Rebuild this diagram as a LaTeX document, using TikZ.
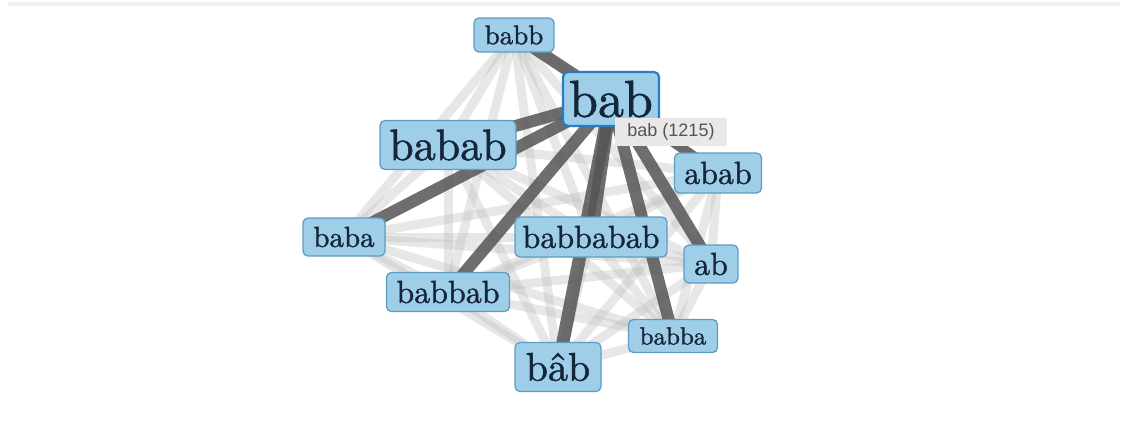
\documentclass[tikz,border=0pt]{standalone}
\usepackage{fontspec}
\newfontfamily\tipfont{Liberation Sans}
\newfontfamily\wordfont{lmroman10-regular.otf}[FakeBold=1.2]
\usetikzlibrary{backgrounds}
\definecolor{nodefill}{HTML}{9FCFE8}
\definecolor{nodeline}{HTML}{5E9CC4}
\definecolor{selline}{HTML}{2A7CC0}
\definecolor{nodetext}{HTML}{16263A}
\definecolor{strong}{HTML}{555555}
\definecolor{weak}{HTML}{BDBDBD}
\definecolor{tipfill}{HTML}{E9E7E8}
\definecolor{tiptext}{HTML}{555555}
\definecolor{band}{HTML}{F0F0F0}
\tikzset{
  word/.style={draw=nodeline, fill=nodefill, line width=1.3pt, rounded corners=5pt,
    text=nodetext, inner sep=0pt, align=center},
  fs/.style={font=\wordfont\fontsize{#1}{#1}\selectfont},
  heavy/.style={draw=strong, opacity=0.85, line width=#1},
  faint/.style={draw=weak, opacity=0.35, line width=9pt},
  tip/.style={fill=tipfill, text=tiptext, inner sep=0pt, font=\tipfont\fontsize{18}{18}\selectfont},
}
\begin{document}
\begin{tikzpicture}[x=1pt,y=-1pt]
\useasboundingbox (0,0) rectangle (1128,423);
% nodes
\node[word, fs=27, minimum width=80pt, minimum height=34pt] (babb) at (514,35) {babb};
\node[word, fs=44, minimum width=136pt, minimum height=49pt] (babab) at (448,145) {babab};
\node[word, fs=32, minimum width=87pt, minimum height=40pt] (abab) at (718,173) {abab};
\node[word, fs=29, minimum width=82pt, minimum height=38pt] (baba) at (344,237) {baba};
\node[word, fs=32, minimum width=152pt, minimum height=40pt] (babbabab) at (591,237) {babbabab};
\node[word, fs=32, minimum width=54pt, minimum height=38pt] (ab) at (711,264) {ab};
\node[word, fs=32, minimum width=123pt, minimum height=39pt] (babbab) at (448,292) {babbab};
\node[word, fs=25, minimum width=89pt, minimum height=33pt] (babba) at (673,336) {babba};
\node[word, fs=40, minimum width=86pt, minimum height=49pt] (bhatb) at (558,367) {b\^ab};
\node[word, draw=selline, line width=2.2pt, fs=52, minimum width=96pt, minimum height=54pt] (bab) at (611,99) {bab};
\node[tip, minimum width=112pt, minimum height=28pt] (tip) at (671,132) {bab (1215)};
% edges
\begin{pgfonlayer}{background}
\fill[white] (0,0) rectangle (1128,423);
\draw[band, line width=4pt] (8,4) -- (1120,4);
\foreach \a/\b in {babb/babab,babb/abab,babb/baba,babb/babbabab,babb/ab,babb/babbab,babb/babba,babb/bhatb,
  babab/abab,babab/baba,babab/babbabab,babab/ab,babab/babbab,babab/babba,babab/bhatb,
  abab/baba,abab/babbabab,abab/ab,abab/babbab,abab/babba,abab/bhatb,
  baba/babbabab,baba/ab,baba/babbab,baba/babba,baba/bhatb,
  babbabab/ab,babbabab/babbab,babbabab/babba,babbabab/bhatb,
  ab/babbab,ab/babba,ab/bhatb,
  babbab/babba,babbab/bhatb,babba/bhatb}
  \draw[faint] (\a.center) -- (\b.center);
\draw[heavy=12pt] (bab.center) -- (babb.center);
\draw[heavy=12pt] (bab.center) -- (babab.center);
\draw[heavy=12pt] (bab.center) -- (baba.center);
\draw[heavy=12pt] (bab.center) -- (babbab.center);
\draw[heavy=13pt] (bab.center) -- (babbabab.center);
\draw[heavy=13pt] (bab.center) -- (bhatb.center);
\draw[heavy=12pt] (bab.center) -- (babba.center);
\draw[heavy=12pt] (bab.center) -- (ab.center);
\draw[heavy=10pt] (bab.center) -- (abab.center);
\end{pgfonlayer}
\end{tikzpicture}
\end{document}
